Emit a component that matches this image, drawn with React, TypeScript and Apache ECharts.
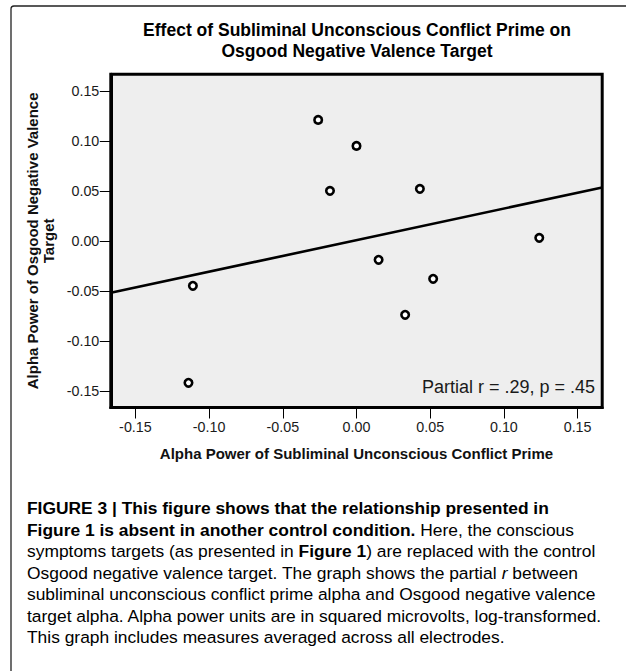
import React, { useEffect, useRef } from 'react';
import * as echarts from 'echarts';

// ---------- data ----------
const titleLines = ['Effect of Subliminal Unconscious Conflict Prime on', 'Osgood Negative Valence Target'];
const xAxisTitle = 'Alpha Power of Subliminal Unconscious Conflict Prime';
const yAxisTitle = ['Alpha Power of Osgood Negative Valence', 'Target'];
const xTicks = [-0.15, -0.1, -0.05, 0, 0.05, 0.1, 0.15];
const yTicks = [-0.15, -0.1, -0.05, 0, 0.05, 0.1, 0.15];
const xRange = [-0.1667, 0.1667];
const yRange = [-0.1667, 0.1667];
const primeAlpha = [-0.111, -0.114, -0.026, 0.0, -0.018, 0.043, 0.124, 0.015, 0.052, 0.033];
const targetAlpha = [-0.045, -0.142, 0.121, 0.095, 0.05, 0.052, 0.003, -0.019, -0.038, -0.074];
const fitLineX = [-0.1667, 0.1667];
const fitLineY = [-0.052, 0.0534];
const annotation = 'Partial r = .29, p = .45';
const captionLines: [string, string][][] = [
  [['b', 'FIGURE 3 | This figure shows that the relationship presented in']],
  [['b', 'Figure 1 is absent in another control condition.'], ['n', ' Here, the conscious']],
  [['n', 'symptoms targets (as presented in '], ['b', 'Figure 1'], ['n', ') are replaced with the control']],
  [['n', 'Osgood negative valence target. The graph shows the partial '], ['i', 'r'], ['n', ' between']],
  [['n', 'subliminal unconscious conflict prime alpha and Osgood negative valence']],
  [['n', 'target alpha. Alpha power units are in squared microvolts, log-transformed.']],
  [['n', 'This graph includes measures averaged across all electrodes.']],
];

const FONT = '"Liberation Sans", Arial, Helvetica, sans-serif';

export default function App() {
  const ref = useRef<HTMLDivElement>(null);

  useEffect(() => {
    if (!ref.current) return;
    const chart = echarts.init(ref.current, undefined, { renderer: 'svg' });

    const capSize = 17.4;
    const rich = {
      b: { fontFamily: FONT, fontSize: capSize, fontWeight: 'bold', color: '#000' },
      n: { fontFamily: FONT, fontSize: capSize, fontWeight: 'normal', color: '#231f20' },
      i: { fontFamily: FONT, fontSize: capSize, fontStyle: 'italic', color: '#231f20' },
    };
    const captionGraphics = captionLines.map((segs, li) => ({
      type: 'text',
      x: 27,
      y: 508 + li * 21.5,
      style: {
        text: segs.map(([s, t]) => `{${s}|${t}}`).join(''),
        rich,
        verticalAlign: 'middle',
        align: 'left',
        font: `${capSize}px ${FONT}`,
      },
    }));
    const titleGraphics = titleLines.map((t, li) => ({
      type: 'text',
      x: 357,
      y: 30.4 + li * 20.2,
      style: {
        text: t,
        align: 'center',
        verticalAlign: 'middle',
        font: `bold 17.5px ${FONT}`,
        fill: '#000',
      },
    }));

    const option: any = {
      animation: false,
      backgroundColor: '#ffffff',
      grid: {
        left: 110.8,
        right: 23.8,
        top: 74.2,
        bottom: 263.5,
        show: true,
        backgroundColor: '#eeeeee',
        borderColor: '#000',
        borderWidth: 3,
      },
      xAxis: {
        type: 'value',
        min: xRange[0],
        max: xRange[1],
        axisLine: { show: true, onZero: false, lineStyle: { color: '#000', width: 3 } },
        axisTick: { show: true, length: 11, customValues: xTicks, lineStyle: { color: '#000', width: 1 } },
        axisLabel: {
          customValues: xTicks,
          formatter: (v: number) => v.toFixed(2),
          margin: 12,
          fontSize: 14.3,
          fontFamily: FONT,
          color: '#1a1a1a',
        },
        splitLine: { show: false },
        name: xAxisTitle,
        nameLocation: 'middle',
        nameGap: 38,
        nameTextStyle: { fontFamily: FONT, fontSize: 15, fontWeight: 'bold', color: '#111' },
      },
      yAxis: {
        type: 'value',
        min: yRange[0],
        max: yRange[1],
        axisLine: { show: true, onZero: false, lineStyle: { color: '#000', width: 3 } },
        axisTick: { show: true, length: 11, customValues: yTicks, lineStyle: { color: '#000', width: 1 } },
        axisLabel: {
          customValues: yTicks,
          formatter: (v: number) => v.toFixed(2),
          margin: 11.5,
          fontSize: 14.3,
          fontFamily: FONT,
          color: '#1a1a1a',
        },
        splitLine: { show: false },
        name: yAxisTitle.join('\n'),
        nameLocation: 'middle',
        nameRotate: 90,
        nameGap: 46.7,
        nameTextStyle: { fontFamily: FONT, fontSize: 15, fontWeight: 'bold', color: '#111', lineHeight: 15.6 },
      },
      series: [
        {
          type: 'line',
          data: fitLineX.map((x, i) => [x, fitLineY[i]]),
          showSymbol: false,
          symbol: 'none',
          lineStyle: { color: '#000', width: 2.6 },
          silent: true,
          z: 2,
        },
        {
          type: 'scatter',
          data: primeAlpha.map((x, i) => [x, targetAlpha[i]]),
          symbol: 'circle',
          symbolSize: 7.5,
          itemStyle: { color: '#ffffff', borderColor: '#000', borderWidth: 2.6, opacity: 1 },
          z: 3,
        },
      ],
      graphic: [
        {
          type: 'rect',
          shape: { x: 11, y: 6, width: 700, height: 720, r: 3 },
          style: { fill: 'none', stroke: '#222', lineWidth: 1.3 },
          silent: true,
        },
        ...titleGraphics,
        {
          type: 'text',
          x: 595,
          y: 386.7,
          style: {
            text: annotation,
            align: 'right',
            verticalAlign: 'middle',
            font: `18px ${FONT}`,
            fill: '#1a1a1a',
          },
          z: 10,
        },
        ...captionGraphics,
      ],
    };

    chart.setOption(option);
    return () => chart.dispose();
  }, []);

  return (
    <div
      ref={ref}
      style={{ position: 'absolute', left: 0, top: 0, width: 626, height: 671, background: '#fff' }}
    />
  );
}
